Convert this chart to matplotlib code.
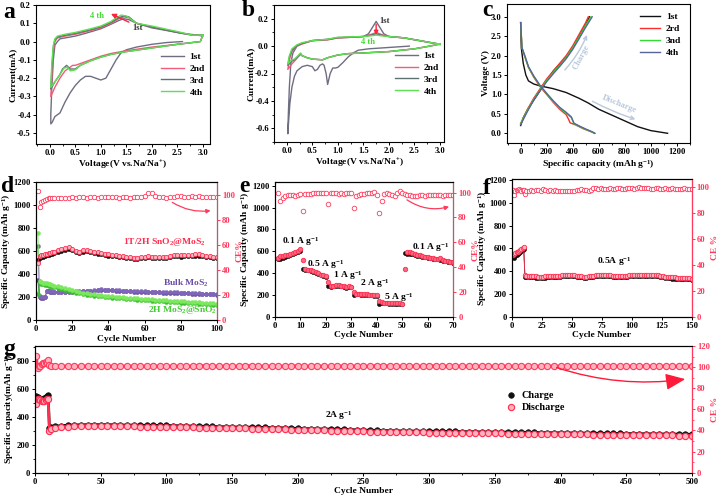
import matplotlib
matplotlib.use("Agg")
import matplotlib.pyplot as plt
from matplotlib.ticker import MultipleLocator

plt.rcParams['font.family'] = ['Liberation Serif', 'DejaVu Serif']
plt.rcParams['font.weight'] = 'bold'
plt.rcParams['axes.labelweight'] = 'bold'
plt.rcParams['mathtext.fontset'] = 'custom'
plt.rcParams['mathtext.rm'] = 'Liberation Serif:bold'
plt.rcParams['mathtext.it'] = 'Liberation Serif:bold:italic'
plt.rcParams['mathtext.bf'] = 'Liberation Serif:bold'
plt.rcParams['font.size'] = 6.2
plt.rcParams['axes.linewidth'] = 0.8

# ---------------- Panel a: CV ----------------
a1_v = [2.6, 2.3, 2.0, 1.7, 1.5, 1.4, 1.3, 1.2, 1.1, 1.0, 0.9, 0.8, 0.7, 0.6, 0.5, 0.4, 0.3, 0.2, 0.1, 0.05, 0.02,
        0.02, 0.04, 0.07, 0.1, 0.15, 0.2, 0.3, 0.5, 0.7, 1.0, 1.2, 1.35, 1.45, 1.55, 1.7, 2.0, 2.3, 2.6, 2.9, 3.0]
a1_i = [0.0, -0.005, -0.015, -0.03, -0.045, -0.06, -0.1, -0.15, -0.2, -0.21, -0.2, -0.19, -0.19, -0.21, -0.24, -0.28,
        -0.33, -0.39, -0.41, -0.44, -0.45, -0.40, -0.25, -0.1, -0.02, 0.0, 0.015, 0.02, 0.03, 0.045, 0.07, 0.095,
        0.115, 0.125, 0.12, 0.1, 0.075, 0.06, 0.045, 0.035, 0.03]
a2_v = [3.0, 2.95, 2.5, 2.0, 1.5, 1.2, 1.0, 0.8, 0.6, 0.5, 0.45, 0.4, 0.3, 0.2, 0.1, 0.02,
        0.04, 0.07, 0.1, 0.15, 0.3, 0.5, 0.8, 1.0, 1.2, 1.35, 1.45, 1.55, 1.7, 2.0, 2.5, 2.8, 3.0]
a2_i = [0.035, 0.0, -0.015, -0.03, -0.05, -0.065, -0.08, -0.1, -0.12, -0.13, -0.13, -0.14, -0.16, -0.2, -0.25, -0.30,
        -0.2, -0.05, 0.0, 0.02, 0.03, 0.04, 0.06, 0.075, 0.1, 0.125, 0.135, 0.13, 0.1, 0.08, 0.05, 0.035, 0.035]
a3_v = [3.0, 2.95, 2.5, 2.0, 1.5, 1.2, 1.0, 0.8, 0.6, 0.5, 0.4, 0.33, 0.25, 0.2, 0.1, 0.02,
        0.04, 0.07, 0.1, 0.15, 0.3, 0.5, 0.8, 1.0, 1.2, 1.35, 1.45, 1.55, 1.7, 2.0, 2.5, 2.8, 3.0]
a3_i = [0.035, 0.0, -0.015, -0.035, -0.055, -0.07, -0.085, -0.105, -0.13, -0.15, -0.15, -0.13, -0.15, -0.18, -0.22, -0.26,
        -0.15, -0.03, 0.01, 0.025, 0.035, 0.045, 0.065, 0.08, 0.105, 0.13, 0.14, 0.135, 0.1, 0.08, 0.05, 0.035, 0.035]
a4_v = [3.0, 2.95, 2.5, 2.0, 1.5, 1.2, 1.0, 0.8, 0.6, 0.5, 0.4, 0.35, 0.28, 0.2, 0.1, 0.02,
        0.04, 0.07, 0.1, 0.15, 0.3, 0.5, 0.8, 1.0, 1.2, 1.3, 1.4, 1.5, 1.7, 2.0, 2.5, 2.8, 3.0]
a4_i = [0.035, 0.0, -0.015, -0.035, -0.055, -0.07, -0.085, -0.105, -0.13, -0.155, -0.16, -0.14, -0.145, -0.18, -0.22, -0.25,
        -0.12, -0.02, 0.015, 0.03, 0.04, 0.05, 0.07, 0.085, 0.11, 0.13, 0.145, 0.14, 0.1, 0.085, 0.055, 0.035, 0.035]

# ---------------- Panel b: CV ----------------
b1_v = [2.4, 2.0, 1.6, 1.4, 1.3, 1.2, 1.1, 1.0, 0.95, 0.9, 0.85, 0.8, 0.77, 0.73, 0.7, 0.65, 0.6, 0.55, 0.5, 0.4,
        0.3, 0.2, 0.15, 0.1, 0.06, 0.03, 0.02, 0.03, 0.05, 0.08, 0.12, 0.2, 0.3, 0.5, 0.8, 1.0, 1.3, 1.5, 1.6, 1.7,
        1.75, 1.8, 1.9, 2.0, 2.3, 2.6, 2.9, 3.0]
b1_i = [0.0, -0.01, -0.02, -0.03, -0.05, -0.08, -0.12, -0.155, -0.16, -0.16, -0.2, -0.28, -0.2, -0.14, -0.13, -0.14,
        -0.17, -0.18, -0.15, -0.14, -0.15, -0.18, -0.22, -0.3, -0.42, -0.58, -0.64, -0.5, -0.3, -0.12, -0.05, 0.0,
        0.02, 0.04, 0.05, 0.06, 0.065, 0.07, 0.09, 0.15, 0.18, 0.15, 0.09, 0.07, 0.06, 0.04, 0.02, 0.01]
b2_v = [3.0, 2.8, 2.5, 2.0, 1.5, 1.2, 1.0, 0.8, 0.7, 0.5, 0.4, 0.3, 0.27, 0.22, 0.15, 0.1, 0.02,
        0.05, 0.1, 0.2, 0.3, 0.5, 0.8, 1.0, 1.3, 1.5, 1.65, 1.75, 1.85, 2.0, 2.3, 2.6, 2.9, 3.0]
b2_i = [0.015, 0.0, -0.02, -0.04, -0.05, -0.055, -0.065, -0.085, -0.1, -0.095, -0.085, -0.07, -0.06, -0.08, -0.11,
        -0.13, -0.17, -0.1, -0.04, 0.0, 0.015, 0.04, 0.045, 0.06, 0.065, 0.07, 0.085, 0.1, 0.085, 0.07, 0.06, 0.04,
        0.02, 0.015]
b3_v = [3.0, 2.8, 2.5, 2.0, 1.5, 1.2, 1.0, 0.8, 0.7, 0.5, 0.4, 0.3, 0.27, 0.22, 0.15, 0.1, 0.02,
        0.05, 0.1, 0.2, 0.3, 0.5, 0.8, 1.0, 1.3, 1.5, 1.65, 1.75, 1.85, 2.0, 2.3, 2.6, 2.9, 3.0]
b3_i = [0.015, 0.0, -0.02, -0.04, -0.05, -0.055, -0.065, -0.085, -0.1, -0.095, -0.085, -0.07, -0.055, -0.075, -0.1,
        -0.11, -0.14, -0.08, -0.03, 0.005, 0.02, 0.04, 0.048, 0.062, 0.066, 0.07, 0.08, 0.09, 0.08, 0.07, 0.06, 0.04,
        0.02, 0.015]
b4_v = [3.0, 2.8, 2.5, 2.0, 1.5, 1.2, 1.0, 0.8, 0.7, 0.5, 0.4, 0.3, 0.27, 0.22, 0.15, 0.1, 0.02,
        0.05, 0.1, 0.2, 0.3, 0.5, 0.8, 1.0, 1.3, 1.5, 1.65, 1.75, 1.85, 2.0, 2.3, 2.6, 2.9, 3.0]
b4_i = [0.015, 0.0, -0.02, -0.04, -0.05, -0.055, -0.065, -0.085, -0.1, -0.095, -0.085, -0.07, -0.05, -0.07, -0.095,
        -0.1, -0.13, -0.07, -0.02, 0.01, 0.025, 0.04, 0.05, 0.065, 0.068, 0.07, 0.075, 0.08, 0.075, 0.07, 0.06, 0.04,
        0.02, 0.015]

# ---------------- Panel c: GCD ----------------
c1_dis_q = [0, 5, 20, 40, 60, 100, 150, 250, 350, 450, 520, 600, 700, 800, 900, 1000, 1130]
c1_dis_v = [2.85, 2.2, 1.8, 1.5, 1.35, 1.27, 1.22, 1.15, 1.05, 0.9, 0.78, 0.62, 0.47, 0.32, 0.17, 0.07, 0.0]
c1_ch_q = [0, 20, 60, 100, 150, 200, 250, 300, 350, 400, 450, 500, 530]
c1_ch_v = [0.2, 0.4, 0.65, 0.85, 1.1, 1.35, 1.6, 1.78, 1.95, 2.2, 2.5, 2.8, 3.0]
c2_dis_q = [0, 10, 30, 60, 100, 150, 200, 250, 300, 350, 370, 380, 420, 480, 550, 570]
c2_dis_v = [2.85, 2.2, 2.0, 1.7, 1.45, 1.2, 1.0, 0.8, 0.62, 0.48, 0.35, 0.27, 0.22, 0.12, 0.03, 0.0]
c2_ch_q = [0, 50, 100, 150, 200, 250, 300, 350, 400, 450, 500, 520]
c2_ch_v = [0.25, 0.6, 0.9, 1.15, 1.4, 1.6, 1.8, 2.0, 2.25, 2.55, 2.85, 3.0]
c3_dis_q = [0, 10, 30, 60, 100, 150, 200, 250, 300, 350, 390, 410, 450, 500, 550, 565]
c3_dis_v = [2.85, 2.2, 2.0, 1.7, 1.47, 1.22, 1.02, 0.82, 0.65, 0.52, 0.4, 0.25, 0.18, 0.1, 0.03, 0.0]
c3_ch_q = [0, 50, 100, 150, 200, 250, 300, 350, 400, 450, 500, 540]
c3_ch_v = [0.25, 0.58, 0.87, 1.12, 1.36, 1.56, 1.75, 1.95, 2.2, 2.48, 2.78, 3.0]
c4_dis_q = [0, 10, 30, 60, 100, 150, 200, 250, 300, 350, 390, 410, 450, 500, 550, 570]
c4_dis_v = [2.85, 2.2, 2.02, 1.72, 1.48, 1.23, 1.03, 0.84, 0.67, 0.54, 0.42, 0.26, 0.19, 0.11, 0.04, 0.0]
c4_ch_q = [0, 50, 100, 150, 200, 250, 300, 350, 400, 450, 500, 550]
c4_ch_v = [0.22, 0.55, 0.85, 1.1, 1.33, 1.53, 1.72, 1.92, 2.16, 2.44, 2.73, 3.0]

# ---------------- Panel d: cycling at 0.1 A/g ----------------
d_cyc = [1, 2, 3, 4, 5, 6, 7, 8, 9, 10, 12, 14, 16, 18, 20, 22, 24, 26, 28, 30, 32, 34, 36, 38, 40, 42, 44, 46, 48,
         50, 52, 54, 56, 58, 60, 62, 64, 66, 68, 70, 72, 74, 76, 78, 80, 82, 84, 86, 88, 90, 92, 94, 96, 98, 100]
d_tt_dis = [500, 560, 565, 568, 572, 575, 580, 585, 590, 595, 605, 615, 625, 632, 620, 600, 595, 605, 608, 600,
            595, 588, 580, 575, 570, 566, 563, 560, 555, 550, 545, 540, 540, 548, 552, 555, 550, 545, 550, 545,
            548, 558, 565, 568, 562, 568, 568, 565, 570, 570, 565, 560, 555, 550, 545]
d_tt_ch = [523, 540, 548, 552, 558, 562, 568, 572, 578, 582, 592, 602, 612, 620, 610, 590, 585, 592, 596, 590,
           585, 578, 570, 565, 560, 556, 553, 550, 545, 540, 535, 530, 530, 538, 542, 545, 540, 535, 540, 535,
           538, 548, 555, 558, 552, 558, 558, 555, 560, 560, 555, 550, 545, 540, 535]
d_tt_ce = [103, 90, 94, 95, 96, 96.5, 97, 97, 97, 97, 97, 97.5, 97, 97.5, 98, 97.5, 98, 98, 97.5, 98, 98, 97.5, 98,
           98, 98, 98, 98, 97.5, 98, 98, 97.5, 98, 98, 98, 99, 101.5, 101, 98.5, 98, 98, 97.5, 98, 98, 98.5, 99,
           98, 98, 98.5, 98, 99, 98, 98, 98, 98, 98]
d_bulk_a = [640, 205, 200, 198, 200, 255, 252, 250, 248, 246, 245, 245, 246, 248, 248, 250, 250, 252, 255, 256,
            258, 262, 266, 265, 264, 262, 260, 258, 256, 254, 252, 250, 250, 248, 248, 247, 246, 245, 244, 243,
            242, 242, 240, 240, 238, 236, 235, 234, 232, 231, 230, 228, 227, 226, 225]
d_bulk_b = [345, 198, 195, 194, 196, 250, 248, 245, 243, 242, 241, 241, 242, 244, 244, 246, 246, 248, 251, 252,
            254, 258, 262, 261, 260, 258, 256, 254, 252, 250, 248, 246, 246, 244, 244, 243, 242, 241, 240, 239,
            238, 238, 236, 236, 234, 232, 231, 230, 228, 227, 226, 224, 223, 222, 221]
d_green_a = [760, 335, 330, 325, 322, 318, 315, 310, 305, 300, 292, 284, 275, 266, 258, 250, 244, 238, 232, 228,
             224, 220, 216, 212, 208, 205, 202, 200, 198, 195, 193, 190, 188, 186, 184, 181, 179, 177, 175, 173,
             171, 169, 167, 165, 163, 161, 159, 157, 155, 153, 151, 149, 147, 145, 143]
d_green_b = [230, 320, 315, 310, 306, 302, 298, 294, 290, 286, 278, 270, 262, 254, 246, 238, 232, 226, 221, 217,
             213, 209, 205, 201, 197, 194, 191, 189, 187, 184, 182, 179, 177, 175, 173, 170, 168, 166, 164, 162,
             160, 158, 156, 154, 152, 150, 148, 146, 144, 142, 140, 138, 136, 134, 132]

# ---------------- Panel e: rate ----------------
e_cyc = list(range(1, 71))
e_ch = [525, 528, 540, 548, 556, 565, 575, 585, 595, 605,
        440, 432, 425, 418, 410, 400, 392, 380, 372, 368,
        285, 275, 278, 282, 280, 278, 272, 265, 270, 268,
        198, 205, 205, 203, 200, 200, 198, 196, 193, 190,
        115, 125, 124, 122, 121, 120, 120, 118, 117, 115,
        588, 578, 575, 572, 565, 558, 553, 548, 545, 540,
        535, 530, 528, 525, 520, 515, 510, 505, 500, 495]
e_dis = [535, 555, 560, 565, 570, 578, 585, 595, 605, 618,
         520, 440, 432, 425, 420, 410, 398, 385, 378, 372,
         320, 285, 285, 290, 288, 285, 278, 272, 278, 275,
         225, 210, 210, 208, 206, 205, 203, 200, 198, 196,
         140, 132, 130, 128, 127, 126, 125, 124, 122, 120,
         440, 590, 590, 582, 575, 568, 562, 555, 550, 545,
         540, 535, 532, 530, 535, 520, 512, 508, 505, 500]
e_ce = [99.5, 93.5, 96, 97, 98, 98.5, 98, 97.5, 98, 99,
        85.5, 99, 99, 99, 99.5, 99.5, 100, 100, 99.5, 99.5,
        90.5, 99.5, 99.5, 99.5, 99, 99.5, 99, 100, 100, 99.5,
        88, 97.5, 98.5, 99, 99, 99.5, 99.5, 99.5, 100.5, 98.5,
        84, 93.5, 99, 99.5, 99, 98.5, 97.5, 99.5, 101, 99.5,
        99, 98.5, 98, 97.5, 97, 97.5, 98, 98, 97.5, 98,
        98, 98.5, 98, 98, 98.5, 97.5, 98, 98, 98.5, 98]
e_rates = ["0.1 A g$^{-1}$", "0.5 A g$^{-1}$", "1 A g$^{-1}$", "2 A g$^{-1}$", "5 A g$^{-1}$", "0.1 A g$^{-1}$"]

# ---------------- Panel f: 0.5 A/g ----------------
f_cyc = [1, 2, 3, 4, 5, 6, 7, 8, 9, 10, 11, 12, 14, 16, 18, 20, 22, 24, 26, 28, 30, 32, 34, 36, 38, 40, 42, 44, 46,
         48, 50, 52, 54, 56, 58, 60, 62, 64, 66, 68, 70, 72, 74, 76, 78, 80, 82, 84, 86, 88, 90, 92, 94, 96, 98,
         100, 102, 104, 106, 108, 110, 112, 114, 116, 118, 120, 122, 124, 126, 128, 130, 132, 134, 136, 138, 140,
         142, 144, 146, 148, 150]
f_dis = [540, 550, 560, 565, 572, 580, 588, 595, 605, 610, 370, 362, 358, 358, 356, 355, 352, 350, 352, 354, 355,
         355, 356, 358, 360, 362, 364, 366, 368, 368, 366, 364, 360, 358, 355, 352, 350, 355, 360, 362, 364, 366,
         366, 366, 365, 364, 364, 362, 362, 362, 360, 360, 360, 362, 364, 365, 365, 366, 366, 366, 367, 368, 367,
         366, 366, 367, 366, 362, 358, 352, 348, 345, 345, 345, 344, 344, 342, 340, 338, 337, 335]
f_ch = [525, 520, 535, 545, 550, 560, 570, 580, 590, 595, 345, 348, 346, 346, 345, 344, 342, 340, 342, 344, 345,
        346, 347, 349, 351, 353, 355, 357, 358, 358, 356, 354, 350, 348, 346, 343, 341, 346, 350, 352, 354, 356,
        356, 356, 355, 354, 354, 352, 352, 352, 350, 350, 350, 352, 354, 355, 355, 356, 356, 356, 357, 358, 357,
        356, 356, 357, 356, 352, 348, 342, 338, 336, 335, 335, 334, 334, 332, 330, 328, 327, 325]
f_ce = [98, 94, 97, 98, 98, 98.5, 98, 97.5, 98, 98, 94.5, 97, 97.5, 98, 97.5, 98, 98, 97.5, 98.5, 98, 97.5, 98, 97.5,
        98, 97.5, 97.5, 97, 97, 97, 97.5, 97, 97.5, 98, 98, 98.5, 98, 98, 97.5, 98, 99.5, 99.5, 99, 99.5, 99, 99,
        99, 99.5, 99, 99, 99.5, 99.5, 99, 99, 99.5, 99.5, 99.5, 99, 99.5, 100, 99.5, 99.5, 99.5, 99.5, 99, 99,
        99.5, 99.5, 99, 99, 99.5, 99, 99, 99.5, 99, 99, 99, 99, 99.5, 99, 99, 99]

# ---------------- Panel g: 2 A/g long cycling ----------------
g_cyc = [1, 2, 3, 4, 5, 6, 7, 8, 9, 10, 11, 12, 15, 20, 25, 30, 35, 40, 45, 50, 55, 60, 65, 70, 75, 80, 85, 90, 95,
         100, 105, 110, 115, 120, 125, 130, 135, 140, 145, 150, 155, 160, 165, 170, 175, 180, 185, 190, 195, 200,
         205, 210, 215, 220, 225, 230, 235, 240, 245, 250, 255, 260, 265, 270, 275, 280, 285, 290, 295, 300, 305,
         310, 315, 320, 325, 330, 335, 340, 345, 350, 355, 360, 365, 370, 375, 380, 385, 390, 395, 400, 405, 410,
         415, 420, 425, 430, 435, 440, 445, 450, 455, 460, 465, 470, 475, 480, 485, 490, 495, 500]
g_dis = [490, 530, 525, 520, 515, 510, 515, 520, 525, 530, 300, 312, 322, 327, 330, 332, 333, 334, 334, 334, 334,
         333, 332, 331, 331, 330, 329, 329, 328, 328, 327, 326, 325, 324, 323, 322, 321, 320, 319, 318, 317, 317,
         316, 315, 314, 313, 312, 311, 309, 307, 306, 305, 304, 303, 302, 301, 300, 299, 297, 295, 294, 293, 292,
         291, 290, 289, 289, 288, 288, 287, 287, 286, 286, 285, 284, 284, 283, 282, 282, 281, 281, 280, 280, 279,
         279, 278, 277, 277, 276, 276, 275, 275, 274, 274, 273, 272, 272, 271, 271, 270, 270, 269, 269, 268, 268,
         267, 267, 266, 266, 265]
g_ch = [550, 540, 535, 530, 528, 530, 535, 540, 548, 555, 320, 325, 332, 337, 340, 342, 343, 344, 344, 344, 344,
        343, 342, 341, 341, 340, 339, 339, 338, 338, 337, 336, 335, 334, 333, 332, 331, 330, 329, 328, 327, 327,
        326, 325, 324, 323, 322, 321, 319, 317, 316, 315, 314, 313, 312, 311, 310, 309, 307, 305, 304, 303, 302,
        301, 300, 299, 299, 298, 298, 297, 297, 296, 296, 295, 294, 294, 293, 292, 292, 291, 291, 290, 290, 289,
        289, 288, 287, 287, 286, 286, 285, 285, 284, 284, 283, 282, 282, 281, 281, 280, 280, 279, 279, 278, 278,
        277, 277, 276, 276, 275]
g_ce = [111, 99.5, 101, 101.5, 103, 104, 104, 104.5, 103.5, 107, 102, 101, 101, 101, 101, 101, 101, 101, 101, 101,
        101, 101, 101, 101, 101, 101, 101, 101, 101, 101, 101, 101, 101, 101, 101.5, 101.5, 101, 101, 101, 101,
        101, 101.5, 101.5, 101, 101, 101, 101, 101, 101.5, 101, 101, 101, 101, 101, 101, 101, 101, 101, 101, 101,
        101, 101.5, 101.5, 101, 101, 101, 101, 101, 101, 101.5, 101, 101, 101, 101, 101, 101, 101, 101, 101, 101,
        101, 101, 101, 101, 101, 101, 101, 101, 101, 101, 101, 101, 101, 101, 101, 101, 101, 101, 101, 101, 101,
        101, 101, 101, 101, 101, 101, 101, 101, 101]

cyc_labels = ["1st", "2nd", "3rd", "4th"]
c_labels = ["1st", "2rd", "3nd", "4th"]

# ---------------- styling ----------------
RED = '#ff2d4f'
PINK_FACE = '#ffb3c0'
CE_COL = '#ff3a5c'
FS = 6.2
LFS = 6.8

fig = plt.figure(figsize=(7.17, 5.0), dpi=100)

def style(ax):
    ax.tick_params(direction='out', length=2.5, width=0.7, labelsize=FS, pad=1.2)
    ax.tick_params(which='minor', direction='out', length=1.5, width=0.6)
    for lab in ax.get_xticklabels() + ax.get_yticklabels():
        lab.set_fontweight('bold')

def panel_label(x, y, s):
    fig.text(x / 717, 1 - y / 500, s, fontsize=17, fontweight='bold', ha='center', va='center',
             family='Liberation Serif')

# ----- a -----
ax = fig.add_axes([0.0502, 0.712, 0.2427, 0.278])
cols_a = ['#6e6e82', '#f25c78', '#5e7272', '#5fe052']
for v, i, c, lab in zip([a1_v, a2_v, a3_v, a4_v], [a1_i, a2_i, a3_i, a4_i], cols_a, cyc_labels):
    ax.plot(v, i, color=c, lw=1.0, label=lab)
ax.set_xlim(-0.27, 3.14)
ax.set_ylim(-0.56, 0.2)
ax.xaxis.set_major_locator(MultipleLocator(0.5))
ax.xaxis.set_minor_locator(MultipleLocator(0.25))
ax.yaxis.set_major_locator(MultipleLocator(0.1))
ax.xaxis.set_major_formatter(matplotlib.ticker.FormatStrFormatter('%.1f'))
ax.yaxis.set_major_formatter(matplotlib.ticker.FormatStrFormatter('%.1f'))
ax.set_xlabel('Voltage(V vs.Na/Na$^{+}$)', fontsize=LFS, labelpad=1)
ax.set_ylabel('Current(mA)', fontsize=LFS, labelpad=0.5)
ax.legend(loc='center right', bbox_to_anchor=(1.02, 0.5), frameon=False, fontsize=LFS, handlelength=2.4,
          labelspacing=0.35, handletextpad=0.6)
ax.annotate('', xy=(1.15, 0.158), xytext=(1.6, 0.1),
            arrowprops=dict(arrowstyle='-|>', color='#ff2040', lw=1.0, mutation_scale=7))
ax.text(0.92, 0.14, '4 th', color='#44dd33', fontsize=FS, ha='center', va='center')
ax.text(1.62, 0.075, '1st', color='#333333', fontsize=FS, ha='left', va='center')
style(ax)
panel_label(9, 12, 'a')

# ----- b -----
ax = fig.add_axes([0.3822, 0.716, 0.2371, 0.274])
for v, i, c, lab in zip([b1_v, b2_v, b3_v, b4_v], [b1_i, b2_i, b3_i, b4_i], cols_a, cyc_labels):
    ax.plot(v, i, color=c, lw=1.0, label=lab)
ax.set_xlim(-0.25, 3.08)
ax.set_ylim(-0.7, 0.3)
ax.xaxis.set_major_locator(MultipleLocator(0.5))
ax.xaxis.set_minor_locator(MultipleLocator(0.25))
ax.yaxis.set_major_locator(MultipleLocator(0.2))
ax.yaxis.set_minor_locator(MultipleLocator(0.1))
ax.xaxis.set_major_formatter(matplotlib.ticker.FormatStrFormatter('%.1f'))
ax.yaxis.set_major_formatter(matplotlib.ticker.FormatStrFormatter('%.1f'))
ax.set_xlabel('Voltage(V vs.Na/Na$^{+}$)', fontsize=LFS, labelpad=1)
ax.set_ylabel('Current(mA)', fontsize=LFS, labelpad=0.5)
ax.legend(loc='center right', bbox_to_anchor=(1.02, 0.5), frameon=False, fontsize=LFS, handlelength=2.4,
          labelspacing=0.35, handletextpad=0.6)
ax.annotate('', xy=(1.75, 0.06), xytext=(1.75, 0.18),
            arrowprops=dict(arrowstyle='-|>', color='#ff2040', lw=1.0, mutation_scale=6))
ax.text(1.82, 0.185, '1st', color='#333333', fontsize=FS, ha='left', va='center')
ax.text(1.6, 0.03, '4 th', color='#44dd33', fontsize=FS, ha='center', va='center')
style(ax)
panel_label(248, 11, 'b')

# ----- c -----
ax = fig.add_axes([0.7071, 0.714, 0.2552, 0.278])
cols_c = ['#111111', '#ff2a2a', '#33dd33', '#56649a']
for dq, dv, cq, cv, c, lab in zip([c1_dis_q, c2_dis_q, c3_dis_q, c4_dis_q], [c1_dis_v, c2_dis_v, c3_dis_v, c4_dis_v],
                                  [c1_ch_q, c2_ch_q, c3_ch_q, c4_ch_q], [c1_ch_v, c2_ch_v, c3_ch_v, c4_ch_v],
                                  cols_c, c_labels):
    ax.plot(dq, dv, color=c, lw=1.0, label=lab)
    ax.plot(cq, cv, color=c, lw=1.0)
ax.set_xlim(-105, 1302)
ax.set_ylim(-0.25, 3.33)
ax.xaxis.set_major_locator(MultipleLocator(200))
ax.xaxis.set_minor_locator(MultipleLocator(100))
ax.yaxis.set_major_locator(MultipleLocator(0.5))
ax.yaxis.set_major_formatter(matplotlib.ticker.FormatStrFormatter('%.1f'))
ax.set_xlabel('Specific capacity (mAh g$^{-1}$)', fontsize=LFS, labelpad=1)
ax.set_ylabel('Voltage (V)', fontsize=LFS, labelpad=0.5)
ax.legend(loc='upper right', bbox_to_anchor=(1.0, 1.0), frameon=False, fontsize=LFS, handlelength=2.2,
          labelspacing=0.35, handletextpad=0.6)
ax.annotate('', xy=(518, 2.6), xytext=(325, 1.58),
            arrowprops=dict(arrowstyle='->', color='#b9c9dd', lw=1.0, connectionstyle='arc3,rad=0.1'))
ax.text(470, 1.95, 'Charge', color='#b9c9dd', fontsize=FS, rotation=62, ha='center', va='center')
ax.annotate('', xy=(903, 0.34), xytext=(533, 0.86),
            arrowprops=dict(arrowstyle='->', color='#b9c9dd', lw=1.0, connectionstyle='arc3,rad=0.05'))
ax.text(760, 0.75, 'Discharge', color='#b9c9dd', fontsize=FS, rotation=-22, ha='center', va='center')
style(ax)
panel_label(487, 11, 'c')

def ce_axis(ax, top, step, minor, label, color=CE_COL):
    ax2 = ax.twinx()
    ax2.set_ylim(0, top)
    ax2.yaxis.set_major_locator(MultipleLocator(step))
    if minor:
        ax2.yaxis.set_minor_locator(MultipleLocator(minor))
    ax2.tick_params(axis='y', colors=color, direction='out', length=2.5, width=0.7, labelsize=FS, pad=1.2)
    ax2.tick_params(axis='y', which='minor', colors=color, direction='out', length=1.5, width=0.6)
    ax2.spines['right'].set_color(color)
    ax2.set_ylabel(label, color=color, fontsize=LFS, labelpad=0.5)
    for lab in ax2.get_yticklabels():
        lab.set_fontweight('bold')
    return ax2

# ----- d -----
ax = fig.add_axes([0.0502, 0.36, 0.2524, 0.276])
ax2 = ce_axis(ax, 110, 20, None, 'CE%')
ax.plot(d_cyc, d_bulk_b, 'o', color='#5a3f8e', ms=2.8, mew=0.4, ls='-', lw=0.6)
ax.plot(d_cyc, d_bulk_a, 'o', color='#8066bb', ms=2.8, mew=0.4, ls='-', lw=0.6)
ax.plot(d_cyc, d_green_b, 'o', color='#3cc02e', ms=2.8, mew=0.4, ls='-', lw=0.6)
ax.plot(d_cyc, d_green_a, 'o', color='#7de85e', ms=2.8, mew=0.4, ls='-', lw=0.6)
ax.plot(d_cyc, d_tt_ch, 'o', color='#111111', ms=3.0, mew=0.4, ls='-', lw=0.6)
ax.plot(d_cyc, d_tt_dis, 'o', mfc=PINK_FACE, mec=RED, color=RED, ms=3.0, mew=0.6, ls='-', lw=0.6)
ax2.plot(d_cyc, d_tt_ce, 'o', mfc='white', mec=CE_COL, ms=3.2, mew=0.6, ls='none')
ax2.annotate('', xy=(98, 87.5), xytext=(74, 95),
             arrowprops=dict(arrowstyle='-|>', color=CE_COL, lw=0.9, mutation_scale=6,
                             connectionstyle='arc3,rad=0.2'))
ax.set_xlim(0, 100)
ax.set_ylim(0, 1200)
ax.xaxis.set_major_locator(MultipleLocator(20))
ax.yaxis.set_major_locator(MultipleLocator(200))
ax.set_xlabel('Cycle Number', fontsize=LFS, labelpad=1)
ax.set_ylabel('Specific Capacity (mAh g$^{-1}$)', fontsize=LFS, labelpad=0.5)
ax.text(71, 680, '1T/2H SnO$_2$@MoS$_2$', color=RED, fontsize=LFS, ha='center', va='center')
ax.text(83, 322, 'Bulk MoS$_2$', color='#6a4fa5', fontsize=LFS, ha='center', va='center')
ax.text(81, 85, '2H MoS$_2$@SnO$_2$', color='#44cc33', fontsize=LFS, ha='center', va='center')
style(ax)
panel_label(8, 186, 'd')

# ----- e -----
ax = fig.add_axes([0.3835, 0.3666, 0.2483, 0.2694])
ax2 = ce_axis(ax, 108.6, 20, None, 'CE%')
ax.plot(e_cyc, e_ch, 'o', color='#111111', ms=3.0, mew=0.4, ls='none')
ax.plot(e_cyc, e_dis, 'o', mfc='#ff6680', mec=RED, ms=3.2, mew=0.6, ls='none')
ax2.plot(e_cyc, e_ce, 'o', mfc='white', mec=CE_COL, ms=3.3, mew=0.6, ls='none')
ax2.annotate('', xy=(69.5, 89.3), xytext=(51, 95.5),
             arrowprops=dict(arrowstyle='-|>', color=CE_COL, lw=0.9, mutation_scale=6,
                             connectionstyle='arc3,rad=0.25'))
ax.set_xlim(0, 70)
ax.set_ylim(0, 1235)
ax.xaxis.set_major_locator(MultipleLocator(10))
ax.yaxis.set_major_locator(MultipleLocator(200))
ax.set_xlabel('Cycle Number', fontsize=LFS, labelpad=1)
ax.set_ylabel('Specific Capacity (mAh g$^{-1}$)', fontsize=LFS, labelpad=0.5)
e_text_pos = [(2.8, 690), (12.5, 475), (22.8, 382), (33.4, 305), (43, 172), (54, 635)]
for (x, y), s in zip(e_text_pos, e_rates):
    ax.text(x, y, s, fontsize=LFS, ha='left', va='center')
style(ax)
panel_label(244, 187, 'e')

# ----- f -----
ax = fig.add_axes([0.7137, 0.3666, 0.251, 0.2754])
ax2 = ce_axis(ax, 106.4, 20, None, 'CE %')
ax.plot(f_cyc, f_ch, 'o', color='#111111', ms=3.0, mew=0.4, ls='-', lw=0.6)
ax.plot(f_cyc, f_dis, 'o', mfc=PINK_FACE, mec=RED, color=RED, ms=3.2, mew=0.6, ls='-', lw=0.6)
ax2.plot(f_cyc, f_ce, 'o', mfc='white', mec=CE_COL, ms=3.2, mew=0.6, ls='none')
ax.set_xlim(0, 150)
ax.set_ylim(0, 1210)
ax.xaxis.set_major_locator(MultipleLocator(25))
ax.yaxis.set_major_locator(MultipleLocator(200))
ax.set_xlabel('Cycle Number', fontsize=LFS, labelpad=1)
ax.set_ylabel('Specific Capacity (mAh g$^{-1}$)', fontsize=LFS, labelpad=0.5)
ax.text(71, 489, '0.5A g$^{-1}$', fontsize=LFS, ha='left', va='center')
style(ax)
panel_label(487, 189, 'f')

# ----- g -----
ax = fig.add_axes([0.0488, 0.0546, 0.9163, 0.2534])
ax2 = ce_axis(ax, 120, 20, 10, 'CE %')
ax.plot(g_cyc, g_ch, 'o', color='#111111', ms=4.0, mew=0.5, ls='-', lw=2.0, label='Charge')
ax.plot(g_cyc, g_dis, 'o', mfc=PINK_FACE, mec=RED, color=RED, ms=4.5, mew=0.8, ls='-', lw=2.0,
        label='Discharge')
ax2.plot(g_cyc, g_ce, 'o', mfc=PINK_FACE, mec=CE_COL, color=CE_COL, ms=4.5, mew=0.8, ls='-', lw=2.0)
ax2.annotate('', xy=(497, 89), xytext=(395, 100.4),
             arrowprops=dict(arrowstyle='-|>,head_length=1.2,head_width=0.5', color='#ff1a3a', lw=1.0,
                             mutation_scale=10, connectionstyle='arc3,rad=0.12'))
ax.set_xlim(0, 500)
ax.set_ylim(0, 907)
ax.xaxis.set_major_locator(MultipleLocator(50))
ax.xaxis.set_minor_locator(MultipleLocator(25))
ax.yaxis.set_major_locator(MultipleLocator(200))
ax.yaxis.set_minor_locator(MultipleLocator(100))
ax.set_xlabel('Cycle Number', fontsize=LFS, labelpad=1)
ax.set_ylabel('Specific capacity(mAh g$^{-1}$)', fontsize=LFS, labelpad=0.5)
leg = ax.legend(loc='center left', bbox_to_anchor=(0.705, 0.56), frameon=False, fontsize=LFS + 0.5,
                handlelength=0.8, handletextpad=0.6, labelspacing=0.3)
for h in leg.legend_handles:
    h.set_linestyle('none')
ax.text(221, 406, '2A g$^{-1}$', fontsize=LFS, ha='left', va='center')
style(ax)
panel_label(9, 349, 'g')

fig.savefig('out.png', dpi=100)
